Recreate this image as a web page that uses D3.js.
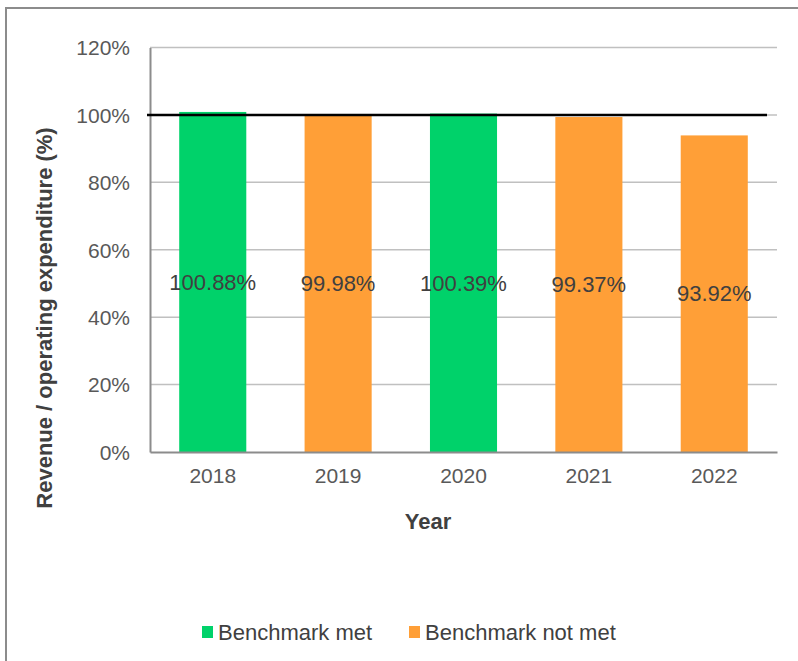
<!DOCTYPE html>
<html>
<head>
<meta charset="utf-8">
<script src="https://cdn.jsdelivr.net/npm/d3@7"></script>
<style>
  body { margin: 0; background: #fff; }
  svg { display: block; font-family: Arial, "Liberation Sans", sans-serif; }
</style>
</head>
<body>
<svg width="798" height="661"></svg>
<script>
const years = ["2018", "2019", "2020", "2021", "2022"];
const ratios = [1.0088, 0.9998, 1.0039, 0.9937, 0.9392];
const labels = ["100.88%", "99.98%", "100.39%", "99.37%", "93.92%"];
const status = ["met", "not", "met", "not", "not"];
const benchmark = 1.0;
const yTicks = [0, 0.2, 0.4, 0.6, 0.8, 1.0, 1.2];
const legendItems = [
  { key: "met", label: "Benchmark met" },
  { key: "not", label: "Benchmark not met" }
];

const svg = d3.select("svg");
const width = +svg.attr("width");
const height = +svg.attr("height");

const color = d3.scaleOrdinal().domain(["met", "not"]).range(["#00d26a", "#ff9f37"]);

const plotLeft = 150, plotRight = 777, plotTop = 47.5, plotBottom = 452;

const x = d3.scaleBand().domain(years).range([plotLeft, plotRight]).paddingInner(0.465).paddingOuter(0.233);
const y = d3.scaleLinear().domain([0, 1.2]).range([plotBottom, plotTop]);

// outer frame (only left and top edges are visible)
svg.append("rect")
  .attr("x", 6).attr("y", 8)
  .attr("width", width + 10).attr("height", height + 10)
  .attr("fill", "none")
  .attr("stroke", "#8c8c8c")
  .attr("stroke-width", 2);

// gridlines
svg.append("g")
  .selectAll("line")
  .data(yTicks.filter(d => d > 0))
  .join("line")
  .attr("x1", plotLeft).attr("x2", plotRight)
  .attr("y1", d => y(d)).attr("y2", d => y(d))
  .attr("stroke", "#c0c0c0")
  .attr("stroke-width", 1.5);

// y axis
const yAxis = svg.append("g")
  .attr("transform", `translate(${plotLeft},0)`)
  .call(d3.axisLeft(y).tickValues(yTicks).tickFormat(d3.format(".0%")).tickSize(0).tickPadding(20));
yAxis.select(".domain").attr("stroke", "#8c8c8c").attr("stroke-width", 2);
yAxis.selectAll("text").attr("font-size", 21).attr("fill", "#595959").attr("dy", "0.35em");

// bars
const data = years.map((yr, i) => ({ year: yr, value: ratios[i], label: labels[i], status: status[i] }));

svg.append("g")
  .selectAll("rect")
  .data(data)
  .join("rect")
  .attr("x", d => x(d.year))
  .attr("width", x.bandwidth())
  .attr("y", d => y(d.value))
  .attr("height", d => y(0) - y(d.value))
  .attr("fill", d => color(d.status));

// x axis
const xAxis = svg.append("g")
  .attr("transform", `translate(0,${plotBottom})`)
  .call(d3.axisBottom(x).tickSize(0).tickPadding(16));
xAxis.select(".domain").attr("stroke", "#8c8c8c").attr("stroke-width", 2);
xAxis.selectAll("text").attr("font-size", 21).attr("fill", "#595959");

// benchmark line
svg.append("line")
  .attr("x1", plotLeft - 3).attr("x2", plotRight - 10)
  .attr("y1", y(benchmark)).attr("y2", y(benchmark))
  .attr("stroke", "#000")
  .attr("stroke-width", 2.5);

// data labels
svg.append("g")
  .selectAll("text")
  .data(data)
  .join("text")
  .attr("x", d => x(d.year) + x.bandwidth() / 2)
  .attr("y", d => y(d.value / 2))
  .attr("dy", "0.35em")
  .attr("text-anchor", "middle")
  .attr("font-size", 22)
  .attr("fill", "#404040")
  .text(d => d.label);

// axis titles
svg.append("text")
  .attr("transform", "translate(52,318) rotate(-90)")
  .attr("text-anchor", "middle")
  .attr("font-size", 22)
  .attr("font-weight", "bold")
  .attr("fill", "#404040")
  .text("Revenue / operating expenditure (%)");

svg.append("text")
  .attr("x", 428).attr("y", 529)
  .attr("text-anchor", "middle")
  .attr("font-size", 22)
  .attr("font-weight", "bold")
  .attr("fill", "#404040")
  .text("Year");

// legend
const legendX = [202, 409];
const legend = svg.append("g")
  .selectAll("g")
  .data(legendItems)
  .join("g")
  .attr("transform", (d, i) => `translate(${legendX[i]},626)`);
legend.append("rect")
  .attr("width", 11).attr("height", 12)
  .attr("fill", d => color(d.key));
legend.append("text")
  .attr("x", 16).attr("y", 6)
  .attr("dy", "0.35em")
  .attr("font-size", 22)
  .attr("fill", "#404040")
  .text(d => d.label);
</script>
</body>
</html>
